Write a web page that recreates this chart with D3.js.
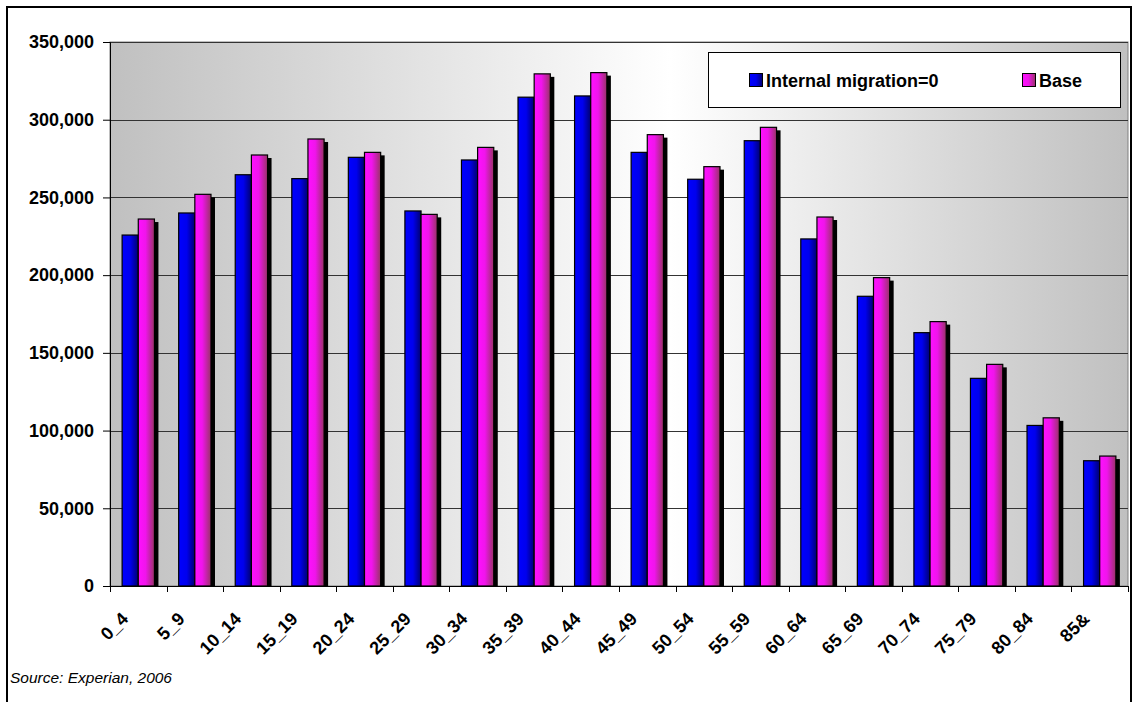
<!DOCTYPE html>
<html>
<head>
<meta charset="utf-8">
<script src="https://cdn.jsdelivr.net/npm/d3@7"></script>
<style>
  html, body { margin: 0; padding: 0; background: #ffffff; }
  svg { display: block; }
  text { font-family: Arial, "Liberation Sans", sans-serif; }
</style>
</head>
<body>
<svg id="chart" width="1133" height="702"></svg>
<script>
const categories = ["0_4","5_9","10_14","15_19","20_24","25_29","30_34","35_39","40_44","45_49","50_54","55_59","60_64","65_69","70_74","75_79","80_84","85&"];
const seriesNames = ["Internal migration=0", "Base"];
const internalMigration0 = [225800, 240000, 264600, 262100, 275800, 241300, 274100, 314500, 315300, 279000, 261700, 286500, 223300, 186400, 163000, 133600, 103300, 80600];
const baseValues = [236100, 252000, 277300, 287600, 279000, 239100, 282200, 329500, 330300, 290400, 269800, 295100, 237400, 198400, 170100, 142600, 108200, 83600];
const yTicks = [0, 50000, 100000, 150000, 200000, 250000, 300000, 350000];
const sourceNote = "Source: Experian, 2006";

const svg = d3.select("#chart");
const plot = { left: 110, right: 1128, top: 42, bottom: 586 };
const FS = "18px";

const defs = svg.append("defs");
const bg = defs.append("linearGradient").attr("id", "bgGrad").attr("x1", "0%").attr("x2", "100%").attr("y1", "0%").attr("y2", "0%");
bg.append("stop").attr("offset", "0%").attr("stop-color", "#c0c0c0");
bg.append("stop").attr("offset", "55%").attr("stop-color", "#ffffff");
bg.append("stop").attr("offset", "100%").attr("stop-color", "#c0c0c0");

const blueG = defs.append("linearGradient").attr("id", "blueGrad").attr("x1", "0%").attr("x2", "100%");
blueG.append("stop").attr("offset", "0%").attr("stop-color", "#0000ff");
blueG.append("stop").attr("offset", "50%").attr("stop-color", "#0000ee");
blueG.append("stop").attr("offset", "100%").attr("stop-color", "#000070");
const pinkG = defs.append("linearGradient").attr("id", "pinkGrad").attr("x1", "0%").attr("x2", "100%");
pinkG.append("stop").attr("offset", "0%").attr("stop-color", "#ff10ff");
pinkG.append("stop").attr("offset", "45%").attr("stop-color", "#f014ec");
pinkG.append("stop").attr("offset", "100%").attr("stop-color", "#993366");
const fills = ["url(#blueGrad)", "url(#pinkGrad)"];

// outer border
svg.append("rect").attr("x", 7).attr("y", 7).attr("width", 1124).attr("height", 740)
  .attr("fill", "none").attr("stroke", "#000").attr("stroke-width", 2);

const x0 = d3.scaleBand().domain(categories).range([plot.left, plot.right]).padding(0);
const x1 = d3.scaleBand().domain(seriesNames).range([0, x0.bandwidth()]).paddingInner(0).paddingOuter(0.75);
const y = d3.scaleLinear().domain([0, 350000]).range([plot.bottom, plot.top]);

// plot background
svg.append("rect").attr("x", plot.left).attr("y", plot.top)
  .attr("width", plot.right - plot.left).attr("height", plot.bottom - plot.top)
  .attr("fill", "url(#bgGrad)").attr("stroke", "#808080").attr("stroke-width", 1);

// gridlines
svg.append("g").selectAll("line").data(yTicks.filter(d => d > 0)).join("line")
  .attr("x1", plot.left).attr("x2", plot.right)
  .attr("y1", d => Math.round(y(d)) + 0.5).attr("y2", d => Math.round(y(d)) + 0.5)
  .attr("stroke", "#333333").attr("stroke-width", 1);

const data = categories.map((c, i) => ({ cat: c, vals: [internalMigration0[i], baseValues[i]] }));

// shadows
const shadowG = svg.append("g");
data.forEach(d => {
  d.vals.forEach((v, k) => {
    shadowG.append("rect")
      .attr("x", x0(d.cat) + x1(seriesNames[k]) + 4)
      .attr("y", y(v) + 3)
      .attr("width", x1.bandwidth())
      .attr("height", Math.max(0, plot.bottom - y(v) - 3))
      .attr("fill", "#000");
  });
});
// bars
const barG = svg.append("g");
data.forEach(d => {
  d.vals.forEach((v, k) => {
    barG.append("rect")
      .attr("x", x0(d.cat) + x1(seriesNames[k]))
      .attr("y", y(v))
      .attr("width", x1.bandwidth())
      .attr("height", plot.bottom - y(v))
      .attr("fill", fills[k])
      .attr("stroke", "#000").attr("stroke-width", 1.2);
  });
});

// y axis
const yAxis = d3.axisLeft(y).tickValues(yTicks).tickSize(7).tickPadding(9)
  .tickFormat(d3.format(","));
const yg = svg.append("g").attr("transform", `translate(${plot.left},0)`).call(yAxis);
yg.select(".domain").attr("stroke", "#000");
yg.selectAll(".tick line").attr("stroke", "#000");
yg.selectAll("text").attr("font-size", FS).attr("font-weight", "bold")
  .attr("fill", "#000").attr("font-family", "Arial, 'Liberation Sans', sans-serif");

// x axis line + ticks at boundaries
svg.append("line").attr("x1", plot.left).attr("x2", plot.right)
  .attr("y1", plot.bottom + 0.5).attr("y2", plot.bottom + 0.5).attr("stroke", "#000");
const bounds = categories.map(c => x0(c)).concat([plot.right]);
svg.append("g").selectAll("line").data(bounds).join("line")
  .attr("x1", d => Math.round(d) + 0.5).attr("x2", d => Math.round(d) + 0.5)
  .attr("y1", plot.bottom).attr("y2", plot.bottom + 6).attr("stroke", "#000");

// x labels
svg.append("g").selectAll("text").data(categories).join("text")
  .attr("transform", d => `translate(${x0(d) + x0.bandwidth() / 2 - 9},620) rotate(-45)`)
  .attr("text-anchor", "end")
  .attr("font-size", FS).attr("font-weight", "bold").attr("fill", "#000")
  .text(d => d);

// legend
const lg = svg.append("g");
lg.append("rect").attr("x", 708.5).attr("y", 52.5).attr("width", 412).attr("height", 55)
  .attr("fill", "#fff").attr("stroke", "#000").attr("stroke-width", 1);
const legendX = [749, 1022];
seriesNames.forEach((s, k) => {
  lg.append("rect").attr("x", legendX[k] + 0.5).attr("y", 73.5).attr("width", 13).attr("height", 13)
    .attr("fill", fills[k]).attr("stroke", "#000").attr("stroke-width", 1);
  lg.append("text").attr("x", legendX[k] + 17).attr("y", 86.5)
    .attr("font-size", FS).attr("font-weight", "bold").attr("fill", "#000").text(s);
});

// source
svg.append("text").attr("x", 10).attr("y", 683).attr("font-size", "15.5px")
  .attr("font-style", "italic").attr("fill", "#000").text(sourceNote);
</script>
</body>
</html>
